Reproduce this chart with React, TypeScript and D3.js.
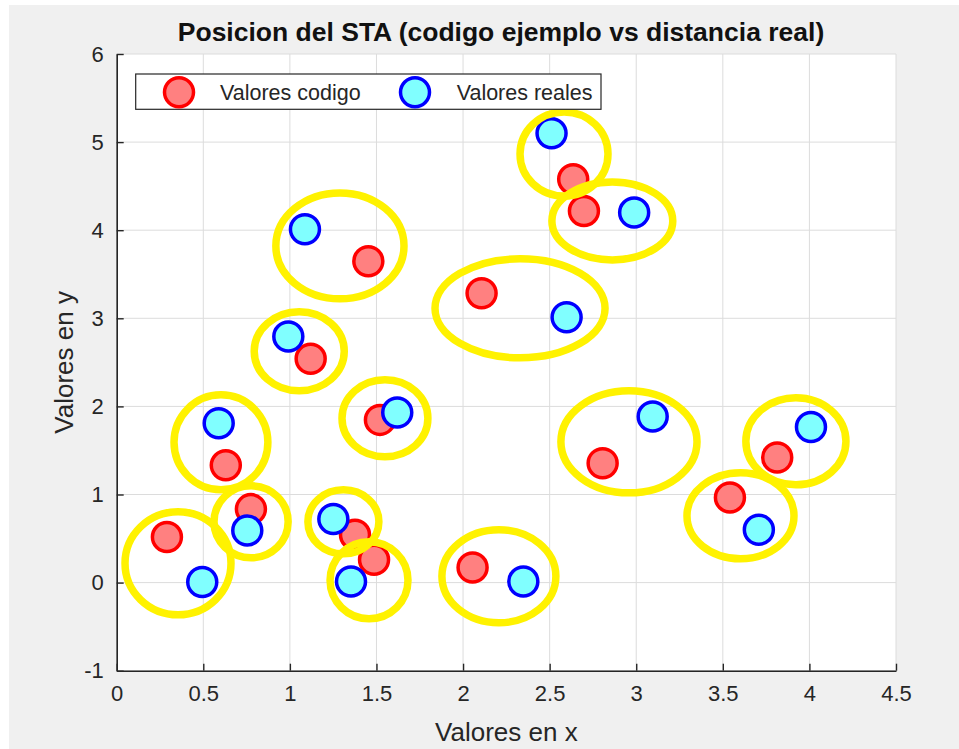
import { useEffect, useRef } from 'react';
import * as d3 from 'd3';

// valores codigo (rojo)
const codeX = [0.29, 0.63, 0.775, 1.12, 1.453, 1.52, 1.376, 1.486, 2.107, 2.055, 2.636, 2.698, 2.806, 3.541, 3.814];
const codeY = [0.517, 1.333, 0.834, 2.54, 3.648, 1.847, 0.543, 0.259, 3.285, 0.172, 4.578, 4.219, 1.356, 0.966, 1.42];

// valores reales (cian)
const realX = [0.494, 0.589, 0.754, 1.087, 0.991, 1.62, 1.251, 1.353, 2.348, 2.511, 2.988, 2.598, 3.095, 3.708, 4.009];
const realY = [0.006, 1.81, 0.592, 4.011, 2.793, 1.93, 0.721, 0.013, 0.013, 5.1, 4.2, 3.013, 1.885, 0.6, 1.765];

// elipses amarillas (centro y radios en unidades de datos)
const ellCx = [0.354, 0.602, 0.776, 1.289, 1.054, 1.549, 1.309, 1.457, 2.583, 2.862, 2.329, 2.958, 2.207, 3.922, 3.602];
const ellCy = [0.219, 1.592, 0.69, 3.822, 2.625, 1.865, 0.69, 0.026, 4.865, 4.105, 3.113, 1.598, 0.072, 1.604, 0.758];
const ellRx = [0.306, 0.271, 0.214, 0.37, 0.26, 0.248, 0.205, 0.225, 0.254, 0.349, 0.491, 0.393, 0.329, 0.289, 0.309];
const ellRy = [0.584, 0.539, 0.408, 0.601, 0.448, 0.437, 0.363, 0.437, 0.477, 0.442, 0.562, 0.579, 0.528, 0.494, 0.488];

const xTicks = [0, 0.5, 1, 1.5, 2, 2.5, 3, 3.5, 4, 4.5];
const yTicks = [-1, 0, 1, 2, 3, 4, 5, 6];

const legendNames = ['Valores codigo', 'Valores reales'];

export default function App() {
    const ref = useRef<SVGSVGElement>(null);

    useEffect(() => {
        const svg = d3.select(ref.current);
        svg.selectAll('*').remove();

        const width = 959;
        const height = 749;
        const font = "'Liberation Sans', Arial, Helvetica, sans-serif";
        const axisColor = '#262626';

        // fondo de la figura
        svg.append('rect')
            .attr('x', 9).attr('y', 5)
            .attr('width', width - 9).attr('height', height - 5)
            .attr('fill', '#f0f0f0');

        // scales
        const x = d3.scaleLinear().domain([0, 4.5]).range([116.7, 896]);
        const y = d3.scaleLinear().domain([-1, 6]).range([670.7, 54]);

        // area de ejes
        svg.append('rect')
            .attr('x', x(0)).attr('y', y(6))
            .attr('width', x(4.5) - x(0)).attr('height', y(-1) - y(6))
            .attr('fill', '#ffffff');

        // grid
        const grid = svg.append('g').attr('stroke', '#dcdcdc').attr('stroke-width', 1);
        xTicks.forEach((t) => {
            grid.append('line')
                .attr('x1', x(t)).attr('x2', x(t))
                .attr('y1', y(-1)).attr('y2', y(6));
        });
        yTicks.forEach((t) => {
            grid.append('line')
                .attr('x1', x(0)).attr('x2', x(4.5))
                .attr('y1', y(t)).attr('y2', y(t));
        });

        // x axis
        const xAxis = d3.axisBottom(x)
            .tickValues(xTicks)
            .tickSizeInner(-7)
            .tickSizeOuter(0)
            .tickPadding(15)
            .tickFormat((d) => String(d));
        const gx = svg.append('g')
            .attr('transform', 'translate(0,' + y(-1) + ')')
            .call(xAxis);

        // y axis
        const yAxis = d3.axisLeft(y)
            .tickValues(yTicks)
            .tickSizeInner(-7)
            .tickSizeOuter(0)
            .tickPadding(13)
            .tickFormat((d) => String(d));
        const gy = svg.append('g')
            .attr('transform', 'translate(' + x(0) + ',0)')
            .call(yAxis);

        [gx, gy].forEach((g) => {
            g.select('.domain').attr('stroke', axisColor).attr('stroke-width', 1.6);
            g.selectAll('.tick line').attr('stroke', axisColor).attr('stroke-width', 1.4);
            g.selectAll('.tick text')
                .attr('fill', axisColor)
                .style('font-family', font)
                .style('font-size', '22px');
        });

        // labels
        svg.append('text')
            .attr('x', (x(0) + x(4.5)) / 2)
            .attr('y', 741)
            .attr('text-anchor', 'middle')
            .attr('fill', axisColor)
            .style('font-family', font)
            .style('font-size', '26px')
            .text('Valores en x');

        svg.append('text')
            .attr('transform', 'translate(73,' + (y(-1) + y(6)) / 2 + ') rotate(-90)')
            .attr('text-anchor', 'middle')
            .attr('fill', axisColor)
            .style('font-family', font)
            .style('font-size', '26px')
            .text('Valores en y');

        svg.append('text')
            .attr('x', 501)
            .attr('y', 41)
            .attr('text-anchor', 'middle')
            .attr('fill', '#111111')
            .style('font-family', font)
            .style('font-size', '26.5px')
            .style('font-weight', 'bold')
            .text('Posicion del STA (codigo ejemplo vs distancia real)');

        // dot styling
        const dotRadius = 14.5;
        const dotStroke = 3.5;

        const codeData = codeX.map((v, i) => ({ x: v, y: codeY[i] }));
        const realData = realX.map((v, i) => ({ x: v, y: realY[i] }));

        svg.selectAll('.code-dot')
            .data(codeData).enter()
            .append('circle')
            .attr('class', 'code-dot')
            .attr('cx', (d) => x(d.x))
            .attr('cy', (d) => y(d.y))
            .attr('r', dotRadius)
            .attr('fill', '#ff8080')
            .attr('stroke', '#ff0000')
            .attr('stroke-width', dotStroke);

        svg.selectAll('.real-dot')
            .data(realData).enter()
            .append('circle')
            .attr('class', 'real-dot')
            .attr('cx', (d) => x(d.x))
            .attr('cy', (d) => y(d.y))
            .attr('r', dotRadius)
            .attr('fill', '#80ffff')
            .attr('stroke', '#0000ff')
            .attr('stroke-width', dotStroke);

        // elipses
        const ellData = ellCx.map((v, i) => ({ cx: v, cy: ellCy[i], rx: ellRx[i], ry: ellRy[i] }));
        svg.selectAll('.ring')
            .data(ellData).enter()
            .append('ellipse')
            .attr('class', 'ring')
            .attr('cx', (d) => x(d.cx))
            .attr('cy', (d) => y(d.cy))
            .attr('rx', (d) => x(d.cx + d.rx) - x(d.cx))
            .attr('ry', (d) => y(d.cy) - y(d.cy + d.ry))
            .attr('fill', 'none')
            .attr('stroke', '#fff200')
            .attr('stroke-width', 7.5);

        // legend
        const legend = svg.append('g');
        legend.append('rect')
            .attr('x', 135.7).attr('y', 74)
            .attr('width', 465.3).attr('height', 35.3)
            .attr('fill', '#ffffff')
            .attr('stroke', '#262626')
            .attr('stroke-width', 1.2);

        const legendStyle = [
            { fill: '#ff8080', stroke: '#ff0000', mx: 179, tx: 220 },
            { fill: '#80ffff', stroke: '#0000ff', mx: 415, tx: 456.7 },
        ];
        legendNames.forEach((name, i) => {
            const s = legendStyle[i];
            legend.append('circle')
                .attr('cx', s.mx).attr('cy', 92.3)
                .attr('r', dotRadius)
                .attr('fill', s.fill)
                .attr('stroke', s.stroke)
                .attr('stroke-width', dotStroke);
            legend.append('text')
                .attr('x', s.tx).attr('y', 100)
                .attr('fill', axisColor)
                .style('font-family', font)
                .style('font-size', '21.5px')
                .text(name);
        });
    }, []);

    return (
        <svg ref={ref} width={959} height={749}
            style={{ position: 'absolute', left: 0, top: 0, background: '#ffffff' }} />
    );
}
